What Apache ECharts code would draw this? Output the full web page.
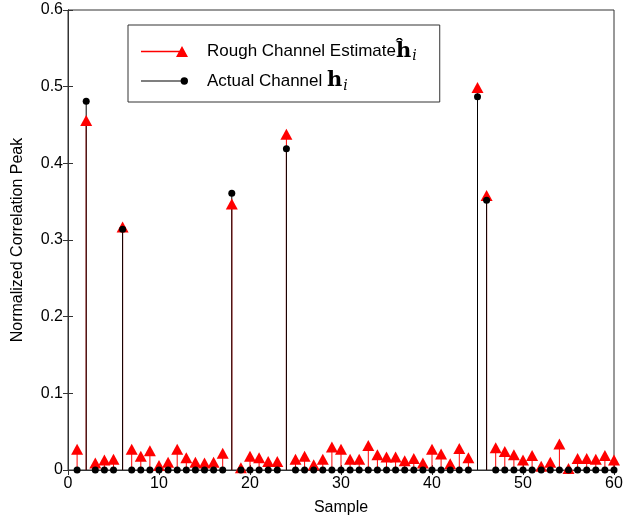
<!DOCTYPE html>
<html>
<head>
<meta charset="utf-8">
<script src="https://cdn.jsdelivr.net/npm/echarts@6/dist/echarts.min.js"></script>
<style>
  html, body { margin: 0; padding: 0; background: #fff; }
  #chart { width: 625px; height: 518px; }
</style>
</head>
<body>
<div id="chart"></div>
<script>
// sample index 1..60
var samples = [1, 2, 3, 4, 5, 6, 7, 8, 9, 10, 11, 12, 13, 14, 15, 16, 17, 18, 19, 20,
  21, 22, 23, 24, 25, 26, 27, 28, 29, 30, 31, 32, 33, 34, 35, 36, 37, 38, 39, 40,
  41, 42, 43, 44, 45, 46, 47, 48, 49, 50, 51, 52, 53, 54, 55, 56, 57, 58, 59, 60];

// rough channel estimate (red triangles)
var estimate = [0.027, 0.456, 0.009, 0.013, 0.014, 0.317, 0.027, 0.018, 0.025, 0.006,
  0.010, 0.027, 0.016, 0.010, 0.009, 0.010, 0.022, 0.347, 0.003, 0.018,
  0.016, 0.011, 0.011, 0.438, 0.014, 0.018, 0.007, 0.014, 0.030, 0.027,
  0.014, 0.014, 0.032, 0.020, 0.017, 0.017, 0.012, 0.015, 0.009, 0.027,
  0.021, 0.008, 0.028, 0.016, 0.499, 0.358, 0.029, 0.024, 0.020, 0.013,
  0.019, 0.005, 0.010, 0.034, 0.002, 0.015, 0.015, 0.014, 0.019, 0.013];

// actual channel (black dots)
var actual = [0, 0.481, 0, 0, 0, 0.314, 0, 0, 0, 0,
  0, 0, 0, 0, 0, 0, 0, 0.361, 0, 0,
  0, 0, 0, 0.419, 0, 0, 0, 0, 0, 0,
  0, 0, 0, 0, 0, 0, 0, 0, 0, 0,
  0, 0, 0, 0, 0.487, 0.352, 0, 0, 0, 0,
  0, 0, 0, 0, 0, 0, 0, 0, 0, 0];

var xTicks = [0, 60, 10];   // min, max, step
var yTicks = [0, 0.6, 0.1];

var estName = "Rough Channel Estimate";
var actName = "Actual Channel";

function pairs(ys) {
  return samples.map(function (x, i) { return [x, ys[i]]; });
}

function stem(color) {
  return function (params, api) {
    var x = api.value(0);
    var p0 = api.coord([x, 0]);
    var p1 = api.coord([x, api.value(1)]);
    return {
      type: "line",
      shape: { x1: p0[0], y1: p0[1], x2: p1[0], y2: p1[1] },
      style: { stroke: color, lineWidth: 1 }
    };
  };
}

var font = "Liberation Sans, Arial, sans-serif";
var axisColor = "#333";

var myChart = echarts.init(document.getElementById("chart"));
var option = {
  animation: false,
  backgroundColor: "#fff",
  grid: {
    left: 68,
    right: 11,
    top: 10,
    bottom: 48,
    outerBoundsMode: "none",
    show: true,
    borderColor: axisColor,
    borderWidth: 1
  },
  legend: {
    orient: "vertical",
    left: 128,
    top: 25,
    padding: [16, 23, 9, 13],
    itemGap: 7,
    itemWidth: 47,
    itemHeight: 11,
    selectedMode: false,
    backgroundColor: "#fff",
    borderColor: axisColor,
    borderWidth: 1,
    borderRadius: 0,
    data: [
      { name: estName, icon: "path://M0,4.8 L41,4.8 L41,6.2 L0,6.2 Z M41,0 L47,11 L35,11 Z" },
      { name: actName, icon: "path://M0,3 L41,3 L41,4 L0,4 Z M44.5,3.5 A3.5,3.5 0 1 1 37.5,3.5 A3.5,3.5 0 1 1 44.5,3.5 Z" }
    ],
    formatter: function (name) {
      if (name === estName) {
        return "{t|Rough Channel Estimate}{h|ĥ}{s|i}";
      }
      return "{t|Actual Channel }{h|h}{s|i}";
    },
    textStyle: {
      color: "#000",
      fontFamily: font,
      fontSize: 17,
      rich: {
        t: { fontFamily: font, fontSize: 17, color: "#000", padding: [0, 0, 0, 14] },
        h: { fontFamily: "DejaVu Serif", fontWeight: "bold", fontSize: 21, color: "#000" },
        s: { fontFamily: "DejaVu Serif", fontStyle: "italic", fontSize: 14, color: "#000", padding: [10, 0, 0, 1] }
      }
    }
  },
  xAxis: [
    {
      type: "value",
      min: xTicks[0],
      max: xTicks[1],
      interval: xTicks[2],
      name: "Sample",
      nameLocation: "middle",
      nameGap: 30,
      nameTextStyle: { fontFamily: font, fontSize: 16, color: "#000" },
      axisLine: { show: true, onZero: false, lineStyle: { color: axisColor } },
      axisTick: { show: true, inside: true, length: 5, lineStyle: { color: axisColor } },
      axisLabel: { fontFamily: font, fontSize: 16, color: "#000", margin: 6 },
      splitLine: { show: false }
    },
    {
      type: "value",
      position: "top",
      min: xTicks[0],
      max: xTicks[1],
      interval: xTicks[2],
      axisLine: { show: true, lineStyle: { color: axisColor } },
      axisTick: { show: true, inside: true, length: 5, lineStyle: { color: axisColor } },
      axisLabel: { show: false },
      splitLine: { show: false }
    }
  ],
  yAxis: [
    {
      type: "value",
      min: yTicks[0],
      max: yTicks[1],
      interval: yTicks[2],
      name: "Normalized Correlation Peak",
      nameLocation: "middle",
      nameGap: 42,
      nameTextStyle: { fontFamily: font, fontSize: 16, color: "#000" },
      axisLine: { show: true, lineStyle: { color: axisColor } },
      axisTick: { show: true, inside: true, length: 5, lineStyle: { color: axisColor } },
      axisLabel: { fontFamily: font, fontSize: 16, color: "#000", margin: 5 },
      splitLine: { show: false }
    },
    {
      type: "value",
      position: "right",
      min: yTicks[0],
      max: yTicks[1],
      interval: yTicks[2],
      axisLine: { show: true, lineStyle: { color: axisColor } },
      axisTick: { show: true, inside: true, length: 5, lineStyle: { color: axisColor } },
      axisLabel: { show: false },
      splitLine: { show: false }
    }
  ],
  series: [
    {
      type: "custom",
      name: "estStem",
      z: 2,
      renderItem: stem("#ff0000"),
      data: pairs(estimate)
    },
    {
      type: "custom",
      name: "actStem",
      z: 3,
      renderItem: stem("#000000"),
      data: pairs(actual)
    },
    {
      type: "scatter",
      name: estName,
      z: 4,
      symbol: "triangle",
      symbolSize: [12, 11],
      itemStyle: { color: "#ff0000", opacity: 1 },
      data: pairs(estimate)
    },
    {
      type: "scatter",
      name: actName,
      z: 5,
      symbol: "circle",
      symbolSize: 7,
      itemStyle: { color: "#000000", opacity: 1 },
      data: pairs(actual)
    }
  ]
};
myChart.setOption(option, true);
</script>
</body>
</html>
